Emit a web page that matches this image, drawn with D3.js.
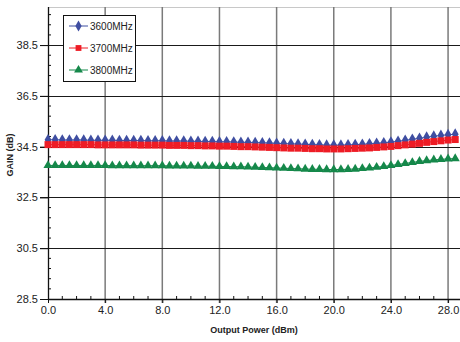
<!DOCTYPE html>
<html><head><meta charset="utf-8">
<script src="https://cdn.jsdelivr.net/npm/d3@7"></script>
<style>body{margin:0;background:#fff;} svg{display:block;font-family:"Liberation Sans",Arial,sans-serif;}</style>
</head><body><svg id="c" width="460" height="342"></svg>
<script>
const xValues = d3.range(0, 28.51, 0.5);
const s3600 = [34.77,34.77,34.76,34.76,34.76,34.76,34.75,34.75,34.75,34.75,34.74,34.74,34.74,34.74,34.73,34.73,34.73,34.72,34.72,34.72,34.71,34.71,34.70,34.70,34.69,34.69,34.68,34.67,34.67,34.66,34.65,34.64,34.63,34.62,34.61,34.60,34.59,34.58,34.57,34.56,34.56,34.56,34.57,34.58,34.59,34.61,34.63,34.65,34.68,34.71,34.75,34.79,34.83,34.87,34.91,34.94,34.97,34.99];
const s3700 = [34.58,34.58,34.58,34.58,34.58,34.58,34.58,34.57,34.57,34.57,34.57,34.57,34.57,34.56,34.56,34.56,34.56,34.55,34.55,34.55,34.54,34.54,34.53,34.53,34.52,34.52,34.51,34.50,34.50,34.49,34.48,34.47,34.46,34.45,34.44,34.44,34.43,34.42,34.42,34.41,34.41,34.41,34.42,34.43,34.44,34.45,34.47,34.49,34.51,34.54,34.57,34.60,34.63,34.67,34.70,34.73,34.76,34.78];
const s3800 = [33.76,33.76,33.76,33.76,33.76,33.76,33.76,33.76,33.76,33.75,33.75,33.75,33.75,33.75,33.75,33.75,33.75,33.74,33.74,33.74,33.74,33.73,33.73,33.73,33.72,33.72,33.71,33.71,33.70,33.69,33.68,33.67,33.66,33.65,33.64,33.63,33.62,33.61,33.61,33.60,33.60,33.60,33.61,33.62,33.64,33.66,33.69,33.72,33.76,33.80,33.84,33.88,33.92,33.95,33.98,34.00,34.02,34.03];
const seriesNames = ["3600MHz","3700MHz","3800MHz"];
const seriesColors = ["#3f4ea1","#ee1c25","#15884a"];
const seriesSymbols = [d3.symbolDiamond, d3.symbolSquare, d3.symbolTriangle];
const xTicks = [0,4,8,12,16,20,24,28];
const yTicks = [28.5,30.5,32.5,34.5,36.5,38.5];
const xLabel = "Output Power (dBm)";
const yLabel = "GAIN (dB)";

const svg = d3.select("#c");
const L = 48, T = 7, R = 459.5, B = 299;
const x = d3.scaleLinear().domain([0, 28.8]).range([L, R]);
const y = d3.scaleLinear().domain([28.5, 40]).range([B, T]);

svg.append("line").attr("x1", L).attr("x2", 460).attr("y1", T+0.5).attr("y2", T+0.5).attr("stroke", "#c8c8c8").attr("stroke-width", 1);

svg.append("g").selectAll("line").data(xTicks.filter(d => d > 0)).join("line")
  .attr("x1", d => x(d)).attr("x2", d => x(d)).attr("y1", T).attr("y2", B + 4)
  .attr("stroke", "#7a7a7a").attr("stroke-width", 1.5);
svg.append("g").selectAll("line").data(yTicks.filter(d => d > 28.5)).join("line")
  .attr("x1", L - 8).attr("x2", 460).attr("y1", d => Math.round(y(d)) + 0.5).attr("y2", d => Math.round(y(d)) + 0.5)
  .attr("stroke", "#1a1a1a").attr("stroke-width", 1.2);

const xAxis = d3.axisBottom(x).tickValues(xTicks).tickFormat(d3.format(".1f")).tickSize(4).tickPadding(3);
const gx = svg.append("g").attr("transform", `translate(0,${B})`).call(xAxis);
gx.select(".domain").attr("d", `M${L},0.5H460`).attr("stroke", "#111").attr("stroke-width", 1.3);
gx.selectAll(".tick line").attr("stroke", "#111");
gx.selectAll("text").attr("font-size", 11).attr("fill", "#222").attr("font-family", "Liberation Sans, Arial, sans-serif");
svg.append("g").selectAll("line").data(d3.range(1, 29, 1).filter(d => d % 4 !== 0)).join("line")
  .attr("x1", d => x(d)).attr("x2", d => x(d)).attr("y1", B).attr("y2", B - 3)
  .attr("stroke", "#111").attr("stroke-width", 1);

const yAxis = d3.axisLeft(y).tickValues(yTicks).tickFormat(d3.format(".1f")).tickSize(8).tickPadding(2);
const gy = svg.append("g").attr("transform", `translate(${L},0)`).call(yAxis);
gy.select(".domain").attr("d", `M0.5,${T}V${B}`).attr("stroke", "#111").attr("stroke-width", 1.3);
gy.selectAll(".tick line").attr("stroke", "#111");
gy.selectAll("text").attr("font-size", 11).attr("fill", "#222").attr("font-family", "Liberation Sans, Arial, sans-serif");
const yMinor = d3.range(28.9, 40.01, 0.4).filter(v => Math.abs(((v - 28.5) / 2) - Math.round((v - 28.5) / 2)) > 0.01);
svg.append("g").selectAll("line").data(yMinor).join("line")
  .attr("x1", L).attr("x2", L + 3).attr("y1", d => y(d)).attr("y2", d => y(d))
  .attr("stroke", "#111").attr("stroke-width", 1);

const allSeries = [s3600, s3700, s3800];
const line = d3.line().x((d, i) => x(xValues[i])).y(d => y(d));
const sizes = [40, 49, 36];
[0,1,2].forEach(k => {
  const vals = allSeries[k];
  const g = svg.append("g");
  g.append("path").datum(vals).attr("d", line).attr("fill", "none").attr("stroke", seriesColors[k]).attr("stroke-width", 1);
  const sym = d3.symbol().type(seriesSymbols[k]).size(sizes[k]);
  g.selectAll("path.m").data(vals).join("path").attr("class", "m")
    .attr("transform", (d, i) => `translate(${x(xValues[i])},${y(d)})`)
    .attr("d", sym).attr("fill", seriesColors[k]);
});

const lg = svg.append("g");
lg.append("rect").attr("x", 63.5).attr("y", 15.5).attr("width", 72).attr("height", 66).attr("fill", "#fff").attr("stroke", "#111").attr("stroke-width", 1);
seriesNames.forEach((n, k) => {
  const yy = 26 + k * 22;
  lg.append("line").attr("x1", 69).attr("x2", 88).attr("y1", yy).attr("y2", yy).attr("stroke", seriesColors[k]).attr("stroke-width", 1);
  lg.append("path").attr("transform", `translate(78.5,${yy})`).attr("d", d3.symbol().type(seriesSymbols[k]).size(34)()).attr("fill", seriesColors[k]);
  lg.append("text").attr("x", 90).attr("y", yy + 3.5).attr("font-size", 10).attr("fill", "#222").text(n);
});

svg.append("text").attr("x", 254).attr("y", 333).attr("text-anchor", "middle").attr("font-size", 9).attr("font-weight", "bold").attr("fill", "#222").text(xLabel);
svg.append("text").attr("transform", "translate(13,155) rotate(-90)").attr("text-anchor", "middle").attr("font-size", 9).attr("font-weight", "bold").attr("fill", "#222").text(yLabel);
</script></body></html>
